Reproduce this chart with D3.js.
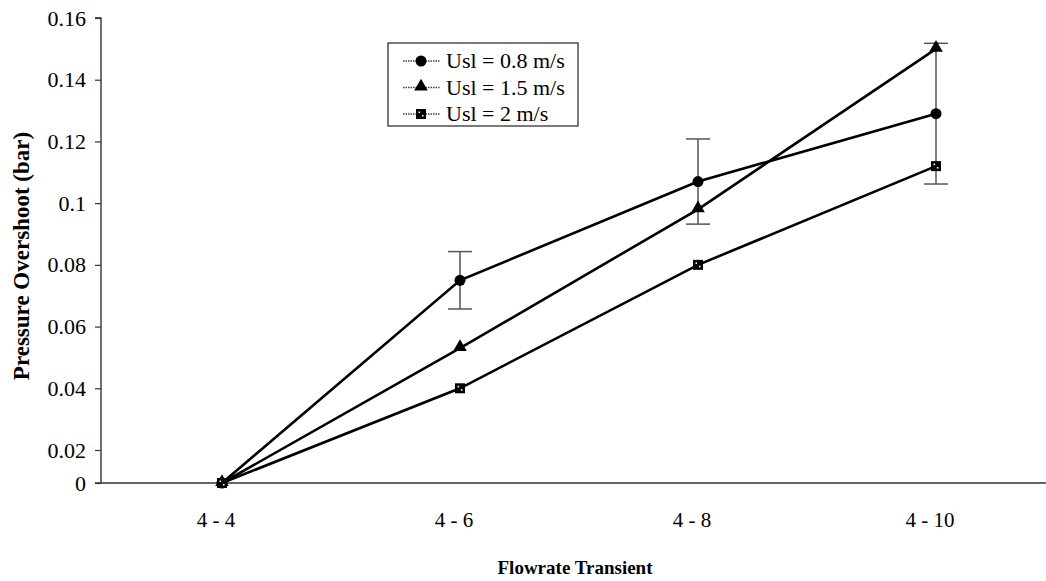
<!DOCTYPE html>
<html>
<head>
<meta charset="utf-8">
<script src="https://cdn.jsdelivr.net/npm/d3@7"></script>
<style>
  body { margin: 0; background: #fff; }
  svg text { font-family: "Liberation Serif", "Times New Roman", serif; fill: #000; }
</style>
</head>
<body>
<div id="chart"></div>
<script>
var categories = ['4 - 4', '4 - 6', '4 - 8', '4 - 10'];
var usl08 = [0, 0.075, 0.107, 0.129];
var usl15 = [0, 0.053, 0.098, 0.15];
var usl2 = [0, 0.04, 0.08, 0.112];
var usl08Err = [0, 0.0093, 0.0138, 0.0228];
var yTicks = [0, 0.02, 0.04, 0.06, 0.08, 0.1, 0.12, 0.14, 0.16];
var seriesNames = ['Usl = 0.8 m/s', 'Usl = 1.5 m/s', 'Usl = 2 m/s'];

var width = 1046, height = 581;

var svg = d3.select('#chart').append('svg')
    .attr('width', width)
    .attr('height', height);

var x = d3.scaleBand().domain(categories).range([103, 1055]);
// the scanned axis has a short first interval, so the scale is piecewise
var y = d3.scaleLinear().domain([0, 0.02, 0.16]).range([483, 450, 18]);
var cx = function(i) { return x(categories[i]) + x.bandwidth() / 2; };

// y axis
var yAxis = svg.append('g')
    .attr('transform', 'translate(101,0)')
    .call(d3.axisLeft(y).tickValues(yTicks).tickSize(6).tickPadding(9)
        .tickFormat(function(d) { return d === 0 ? '0' : String(+d.toFixed(2)); }));
yAxis.select('.domain').attr('stroke', '#222').attr('stroke-width', 1.3).attr('d', 'M-6,18H0V483');
yAxis.selectAll('.tick line').attr('stroke', '#333').attr('stroke-width', 1.2);
yAxis.selectAll('.tick text').style('font-size', '22px').style('font-family', '"Liberation Serif", serif');

// x axis line and labels
svg.append('line')
    .attr('x1', 95).attr('x2', width)
    .attr('y1', y(0)).attr('y2', y(0))
    .attr('stroke', '#333').attr('stroke-width', 1.6);

svg.selectAll('.xlab').data(categories).enter().append('text')
    .attr('class', 'xlab')
    .attr('x', function(d, i) { return cx(i) - 6; })
    .attr('y', 527)
    .attr('text-anchor', 'middle')
    .style('font-size', '21px')
    .text(function(d) { return d; });

// titles
svg.append('text')
    .attr('x', 575).attr('y', 574)
    .attr('text-anchor', 'middle')
    .style('font-size', '19px').style('font-weight', 'bold')
    .text('Flowrate Transient');

svg.append('text')
    .attr('transform', 'translate(29,256) rotate(-90)')
    .attr('text-anchor', 'middle')
    .style('font-size', '23px').style('font-weight', 'bold')
    .text('Pressure Overshoot (bar)');

// error bars for Usl = 0.8
var eb = svg.append('g');
usl08Err.forEach(function(e, i) {
    if (!e) return;
    var xc = cx(i), top = y(usl08[i] + e), bot = y(usl08[i] - e);
    eb.append('line').attr('x1', xc).attr('x2', xc).attr('y1', top).attr('y2', bot);
    eb.append('line').attr('x1', xc - 12).attr('x2', xc + 12).attr('y1', top).attr('y2', top);
    eb.append('line').attr('x1', xc - 12).attr('x2', xc + 12).attr('y1', bot).attr('y2', bot);
});
eb.selectAll('line').attr('stroke', '#555').attr('stroke-width', 1.5);

// lines
var line = d3.line().x(function(d, i) { return cx(i); }).y(function(d) { return y(d); });
[usl08, usl15, usl2].forEach(function(s) {
    svg.append('path').datum(s)
        .attr('d', line)
        .attr('fill', 'none')
        .attr('stroke', '#000')
        .attr('stroke-width', 2.6);
});

// markers
function drawMarker(g, kind, px, py) {
    if (kind === 0) {
        g.append('circle').attr('cx', px).attr('cy', py).attr('r', 5.5).attr('fill', '#000');
    } else if (kind === 1) {
        g.append('path')
            .attr('d', d3.symbol().type(d3.symbolTriangle).size(80)())
            .attr('transform', 'translate(' + px + ',' + (py - 1) + ')')
            .attr('fill', '#000');
    } else {
        g.append('rect').attr('x', px - 5).attr('y', py - 5).attr('width', 10).attr('height', 10)
            .attr('fill', '#000');
        g.append('rect').attr('x', px - 2.5).attr('y', py - 2.5).attr('width', 1.6).attr('height', 1.6).attr('fill', '#fff');
        g.append('rect').attr('x', px + 0.9).attr('y', py + 0.9).attr('width', 1.6).attr('height', 1.6).attr('fill', '#fff');
    }
}
var mk = svg.append('g');
[usl08, usl15, usl2].forEach(function(s, k) {
    s.forEach(function(v, i) { drawMarker(mk, k, cx(i), y(v)); });
});

// legend
var lg = svg.append('g');
lg.append('rect').attr('x', 388).attr('y', 43).attr('width', 190).attr('height', 83)
    .attr('fill', '#fff').attr('stroke', '#333').attr('stroke-width', 1.3);
seriesNames.forEach(function(name, k) {
    var ly = 61 + k * 26.5;
    lg.append('line').attr('x1', 403).attr('x2', 440).attr('y1', ly).attr('y2', ly)
        .attr('stroke', '#444').attr('stroke-width', 1.3).attr('stroke-dasharray', '1.5,1');
    drawMarker(lg, k, 421, ly);
    lg.append('text').attr('x', 446).attr('y', ly + 7)
        .style('font-size', '22px')
        .text(name);
});
</script>
</body>
</html>
